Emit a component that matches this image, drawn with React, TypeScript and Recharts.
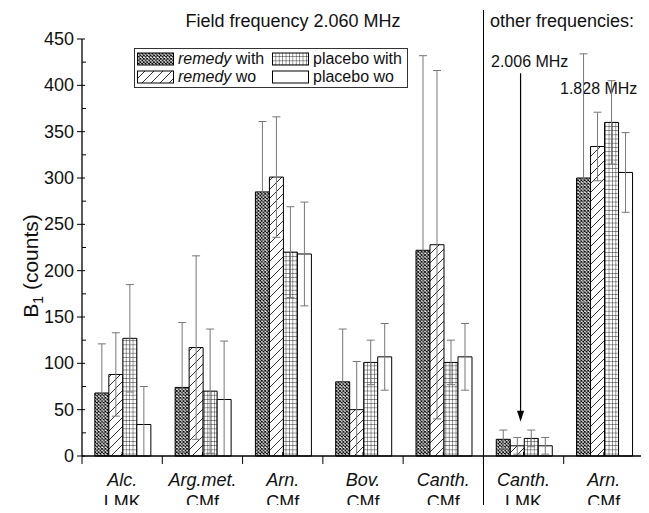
import React from 'react';
import {
  BarChart,
  Bar,
  XAxis,
  YAxis,
  ErrorBar,
  Legend,
  ReferenceLine,
} from 'recharts';

// groups: remedy name (italic) + potency code
const names = ['Alc.', 'Arg.met.', 'Arn.', 'Bov.', 'Canth.', 'Canth.', 'Arn.'];
const codes = ['LMK', 'CMf', 'CMf', 'CMf', 'CMf', 'LMK', 'CMf'];
const ids = ['g1', 'g2', 'g3', 'g4', 'g5', 'g6', 'g7'];

const remedyWith = [68, 74, 285, 80, 222, 18, 300];
const remedyWithErr = [53, 70, 76, 57, 210, 10, 134];
const remedyWo = [88, 117, 301, 50, 228, 11, 334];
const remedyWoErr = [45, 99, 65, 52, 188, 9, 37];
const placeboWith = [127, 70, 220, 101, 101, 19, 360];
const placeboWithErr = [58, 67, 49, 24, 24, 9, 45];
const placeboWo = [34, 61, 218, 107, 107, 11, 306];
const placeboWoErr = [41, 63, 56, 36, 36, 9, 43];

const yTicks = [0, 25, 50, 75, 100, 125, 150, 175, 200, 225, 250, 275, 300, 325, 350, 375, 400, 425, 450];

// error bars never go below zero
const err = (v: number, e: number) => [Math.min(v, e), e];

const data = ids.map((id, i) => ({
  id,
  rw: remedyWith[i],
  rwE: err(remedyWith[i], remedyWithErr[i]),
  ro: remedyWo[i],
  roE: err(remedyWo[i], remedyWoErr[i]),
  pw: placeboWith[i],
  pwE: err(placeboWith[i], placeboWithErr[i]),
  po: placeboWo[i],
  poE: err(placeboWo[i], placeboWoErr[i]),
}));

const W = 649;
const H = 513;
const FONT = '"Liberation Sans", Arial, sans-serif';
const margin = { top: 39, right: 5, bottom: 0, left: 22 };
const Y_W = 60;
const X_H = 57;
const plotLeft = margin.left + Y_W;
const plotW = W - plotLeft - margin.right;
const band = plotW / ids.length;

const series = [
  { key: 'rw', errKey: 'rwE', fill: 'url(#pCross)', name: 'remedy', suffix: ' with' },
  { key: 'ro', errKey: 'roE', fill: 'url(#pDiag)', name: 'remedy', suffix: ' wo' },
  { key: 'pw', errKey: 'pwE', fill: 'url(#pGrid)', name: 'placebo with', suffix: '' },
  { key: 'po', errKey: 'poE', fill: '#fff', name: 'placebo wo', suffix: '' },
];

const Patterns = () => (
  <svg width={0} height={0} style={{ position: 'absolute' }}>
    <defs>
      <pattern id="pCross" width={3.4} height={3.4} patternUnits="userSpaceOnUse">
        <rect width={3.4} height={3.4} fill="#fff" />
        <path d="M0,0 L3.4,3.4 M3.4,0 L0,3.4" stroke="#000" strokeWidth={0.9} />
      </pattern>
      <pattern id="pDiag" width={9} height={9} patternUnits="userSpaceOnUse">
        <rect width={9} height={9} fill="#fff" />
        <path d="M-2,11 L11,-2 M-2,2 L2,-2 M7,11 L11,7" stroke="#000" strokeWidth={0.8} />
      </pattern>
      <pattern id="pGrid" width={3.4} height={4.2} patternUnits="userSpaceOnUse">
        <rect width={3.4} height={4.2} fill="#fff" />
        <path d="M0,0 L0,4.2 M0,0 L3.4,0" stroke="#000" strokeWidth={0.8} />
      </pattern>
    </defs>
  </svg>
);

const BottomTick = (p: any) => {
  const { x, y, payload } = p;
  const i = ids.indexOf(payload.value);
  return (
    <g>
      <line x1={x} y1={y} x2={x} y2={y - 4} stroke="#000" />
      <line x1={x + band / 2} y1={y} x2={x + band / 2} y2={y + 8} stroke="#000" />
      {i === 0 && <line x1={x - band / 2} y1={y} x2={x - band / 2} y2={y + 8} stroke="#000" />}
      <text x={x} y={y + 30} textAnchor="middle" fontSize={18} fontStyle="italic" fill="#111" fontFamily={FONT}>
        {names[i]}
      </text>
      <text x={x} y={y + 52} textAnchor="middle" fontSize={18} fill="#111" fontFamily={FONT}>
        {codes[i]}
      </text>
    </g>
  );
};

const TopTick = (p: any) => {
  const { x, y } = p;
  return (
    <g stroke="#000">
      <line x1={x} y1={y} x2={x} y2={y + 5} />
      <line x1={x + band / 2} y1={y} x2={x + band / 2} y2={y + 5} />
    </g>
  );
};

const LeftTick = (p: any) => {
  const { x, y, payload } = p;
  const major = payload.value % 50 === 0;
  return (
    <g>
      {major ? (
        <line x1={x - 5} y1={y} x2={x + 3} y2={y} stroke="#000" />
      ) : (
        <line x1={x} y1={y} x2={x + 4} y2={y} stroke="#000" />
      )}
      {major && (
        <text x={x - 8} y={y + 6} textAnchor="end" fontSize={18} fill="#111" fontFamily={FONT}>
          {payload.value}
        </text>
      )}
    </g>
  );
};

const RightTick = (p: any) => {
  const { x, y, payload } = p;
  const len = payload.value % 50 === 0 ? 8 : 4;
  return <line x1={x} y1={y} x2={x - len} y2={y} stroke="#000" />;
};

const Arrow = (p: any) => {
  const { x1, y1, x2, y2 } = p;
  const top = Math.min(y1, y2);
  const tip = Math.max(y1, y2);
  const x = (x1 + x2) / 2 - 3;
  return (
    <g>
      <line x1={x} y1={top} x2={x} y2={tip - 8} stroke="#000" strokeWidth={1.2} />
      <polygon points={`${x - 3.5},${tip - 11} ${x + 3.5},${tip - 11} ${x},${tip}`} fill="#000" />
    </g>
  );
};

const LegendBox = () => (
  <div
    style={{
      border: '1px solid #333',
      background: '#fff',
      display: 'grid',
      gridTemplateRows: '18px 18px',
      gridAutoFlow: 'column',
      gridTemplateColumns: '135px 135px',
      padding: '1px 0 1px 2px',
      fontFamily: FONT,
      fontSize: 16,
      color: '#111',
      lineHeight: '18px',
    }}
  >
    {series.map((s) => (
      <div key={s.key} style={{ display: 'flex', alignItems: 'center', whiteSpace: 'nowrap' }}>
        <svg width={37} height={14} style={{ marginRight: 4 }}>
          <rect x={0.5} y={1} width={36} height={12} fill={s.fill} stroke="#000" />
        </svg>
        {s.suffix ? (
          <span>
            <i>{s.name}</i>
            {s.suffix}
          </span>
        ) : (
          <span>{s.name}</span>
        )}
      </div>
    ))}
  </div>
);

export default function App() {
  return (
    <div style={{ position: 'relative', width: W, height: H, margin: -8, background: '#fff', fontFamily: FONT }}>
      <Patterns />
      <BarChart width={W} height={H} data={data} margin={margin} barCategoryGap="16%" barGap={0}>
        <XAxis
          dataKey="id"
          height={X_H}
          interval={0}
          tickSize={0}
          tickMargin={0}
          tickLine={false}
          tick={<BottomTick />}
          axisLine={{ stroke: '#000', strokeWidth: 1.3 }}
        />
        <XAxis
          xAxisId="top"
          dataKey="id"
          orientation="top"
          height={0}
          interval={0}
          tickSize={0}
          tickMargin={0}
          tickLine={false}
          tick={<TopTick />}
          axisLine={{ stroke: '#000', strokeWidth: 1.3 }}
        />
        <YAxis
          width={Y_W}
          domain={[0, 450]}
          ticks={yTicks}
          interval={0}
          tickSize={0}
          tickMargin={0}
          tickLine={false}
          tick={<LeftTick />}
          axisLine={{ stroke: '#000', strokeWidth: 1.3 }}
        />
        <YAxis
          yAxisId="right"
          orientation="right"
          width={0}
          domain={[0, 450]}
          ticks={yTicks}
          interval={0}
          tickSize={0}
          tickMargin={0}
          tickLine={false}
          tick={<RightTick />}
          axisLine={{ stroke: '#000', strokeWidth: 1.3 }}
        />
        {series.map((s) => (
          <Bar key={s.key} dataKey={s.key} fill={s.fill} stroke="#000" strokeWidth={1} isAnimationActive={false}>
            <ErrorBar dataKey={s.errKey} width={4} stroke="#777" strokeWidth={1} direction="y" isAnimationActive={false} />
          </Bar>
        ))}
        <ReferenceLine
          segment={[
            { x: ids[5], y: 413 },
            { x: ids[5], y: 37 },
          ]}
          shape={<Arrow />}
        />
        <Legend
          layout="vertical"
          align="center"
          verticalAlign="middle"
          content={<LegendBox />}
          wrapperStyle={{ left: 134, top: 48, width: 'auto' }}
        />
        <text x={293} y={27} textAnchor="middle" fontSize={18} fill="#111" fontFamily={FONT}>
          Field frequency 2.060 MHz
        </text>
        <text x={490} y={27} fontSize={18} fill="#111" fontFamily={FONT}>
          other frequencies:
        </text>
        <text x={491} y={67} fontSize={16} fill="#111" fontFamily={FONT}>
          2.006 MHz
        </text>
        <text x={560} y={94} fontSize={16} fill="#111" fontFamily={FONT}>
          1.828 MHz
        </text>
        <text
          transform="translate(38,266) rotate(-90)"
          textAnchor="middle"
          fontSize={21}
          fill="#111"
          fontFamily={FONT}
        >
          B<tspan fontSize={14} dy={5}>1</tspan>
          <tspan dy={-5}> (counts)</tspan>
        </text>
      </BarChart>
      <div
        style={{
          position: 'absolute',
          left: plotLeft + band * 5 - 0.6,
          top: 10,
          width: 1.3,
          height: 495,
          background: '#000',
        }}
      />
    </div>
  );
}
